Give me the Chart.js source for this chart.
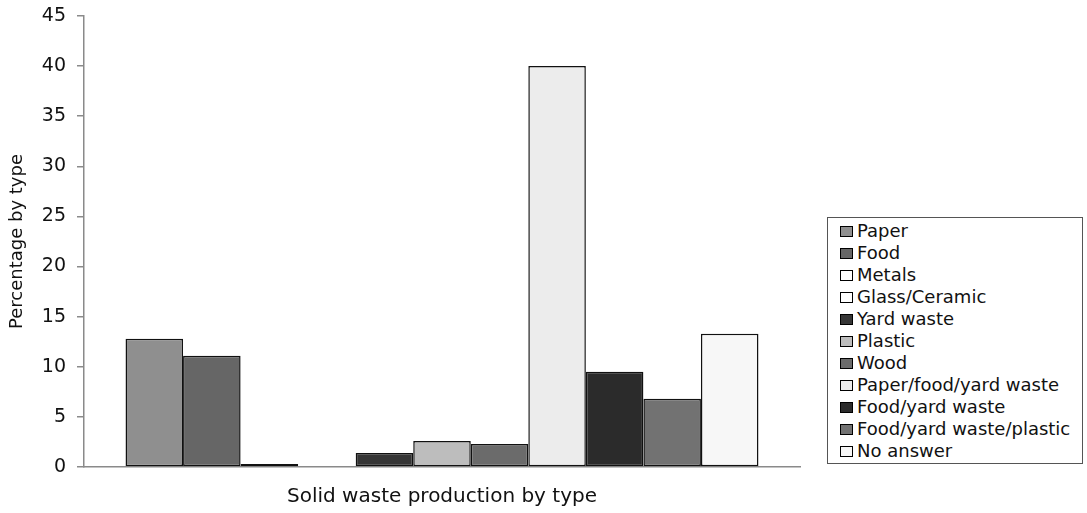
<!DOCTYPE html>
<html>
<head>
<meta charset="utf-8">
<script src="https://cdn.jsdelivr.net/npm/chart.js@4/dist/chart.umd.min.js"></script>
<style>
  body { margin: 0; background: #fff; }
  #wrap { position: relative; width: 1087px; height: 513px; }
  #legend {
    position: absolute; left: 827px; top: 217px; width: 256px; height: 247px;
    border: 1px solid #555; background: #fff;
    font-family: "DejaVu Sans", sans-serif; font-size: 18px; color: #111;
    padding: 2px 0 0 12px; box-sizing: border-box;
  }
  #legend div { height: 22px; line-height: 22px; white-space: nowrap; }
  #legend span.sw {
    display: inline-block; width: 11px; height: 9px; border: 1px solid #000;
    margin-right: 4px; vertical-align: 0px;
  }
</style>
</head>
<body>
<div id="wrap">
  <canvas id="c" width="1087" height="513"></canvas>
  <div id="legend"></div>
</div>
<script>
// data
const category = ['Solid waste production by type'];
const wasteTypes = ['Paper', 'Food', 'Metals', 'Glass/Ceramic', 'Yard waste', 'Plastic', 'Wood',
  'Paper/food/yard waste', 'Food/yard waste', 'Food/yard waste/plastic', 'No answer'];
const percentages = [12.8, 11.1, 0.3, 0, 1.4, 2.6, 2.3, 40.0, 9.5, 6.8, 13.3];
const fills = ['#8f8f8f', '#666666', '#ffffff', '#ffffff', '#363636', '#bdbdbd', '#6b6b6b',
  '#ececec', '#2b2b2b', '#727272', '#f7f7f7'];
const yTicks = [0, 5, 10, 15, 20, 25, 30, 35, 40, 45];

const font = "'DejaVu Sans', sans-serif";

const datasets = wasteTypes.map((name, i) => ({
  label: name,
  data: [percentages[i]],
  backgroundColor: fills[i],
  borderColor: '#111',
  borderWidth: 1.5,
  borderSkipped: false,
  barPercentage: 1.0,
  categoryPercentage: 0.884
}));

const chart = new Chart(document.getElementById('c'), {
  type: 'bar',
  data: { labels: category, datasets: datasets },
  options: {
    responsive: false,
    animation: false,
    layout: { padding: { top: 16, right: 287, left: 0, bottom: 0 } },
    plugins: { legend: { display: false }, tooltip: { enabled: false } },
    scales: {
      x: {
        grid: { display: false, drawTicks: false },
        border: { color: '#8a8a8a', width: 1.5 },
        ticks: { display: false },
        title: { display: true, text: 'Solid waste production by type',
          font: { family: font, size: 20 }, color: '#111', padding: { top: 18 } },
        afterFit: s => { s.height = 46; }
      },
      y: {
        min: 0, max: 45,
        afterBuildTicks: s => { s.ticks = yTicks.map(v => ({ value: v })); },
        grid: { drawOnChartArea: false, tickLength: 7, color: '#8a8a8a', lineWidth: 1.5 },
        border: { color: '#8a8a8a', width: 1.5 },
        ticks: { font: { family: font, size: 19 }, color: '#111', padding: 11 },
        title: { display: true, text: 'Percentage by type',
          font: { family: font, size: 18 }, color: '#111', padding: { top: 7, bottom: 0 } },
        afterFit: s => { s.width = 84; s.paddingTop = 0; s.paddingBottom = 0; }
      }
    }
  }
});

// legend as html, built from the datasets
const legendEl = document.getElementById('legend');
chart.data.datasets.forEach(ds => {
  const row = document.createElement('div');
  const sw = document.createElement('span');
  sw.className = 'sw';
  sw.style.background = ds.backgroundColor;
  row.appendChild(sw);
  row.appendChild(document.createTextNode(ds.label));
  legendEl.appendChild(row);
});
</script>
</body>
</html>
